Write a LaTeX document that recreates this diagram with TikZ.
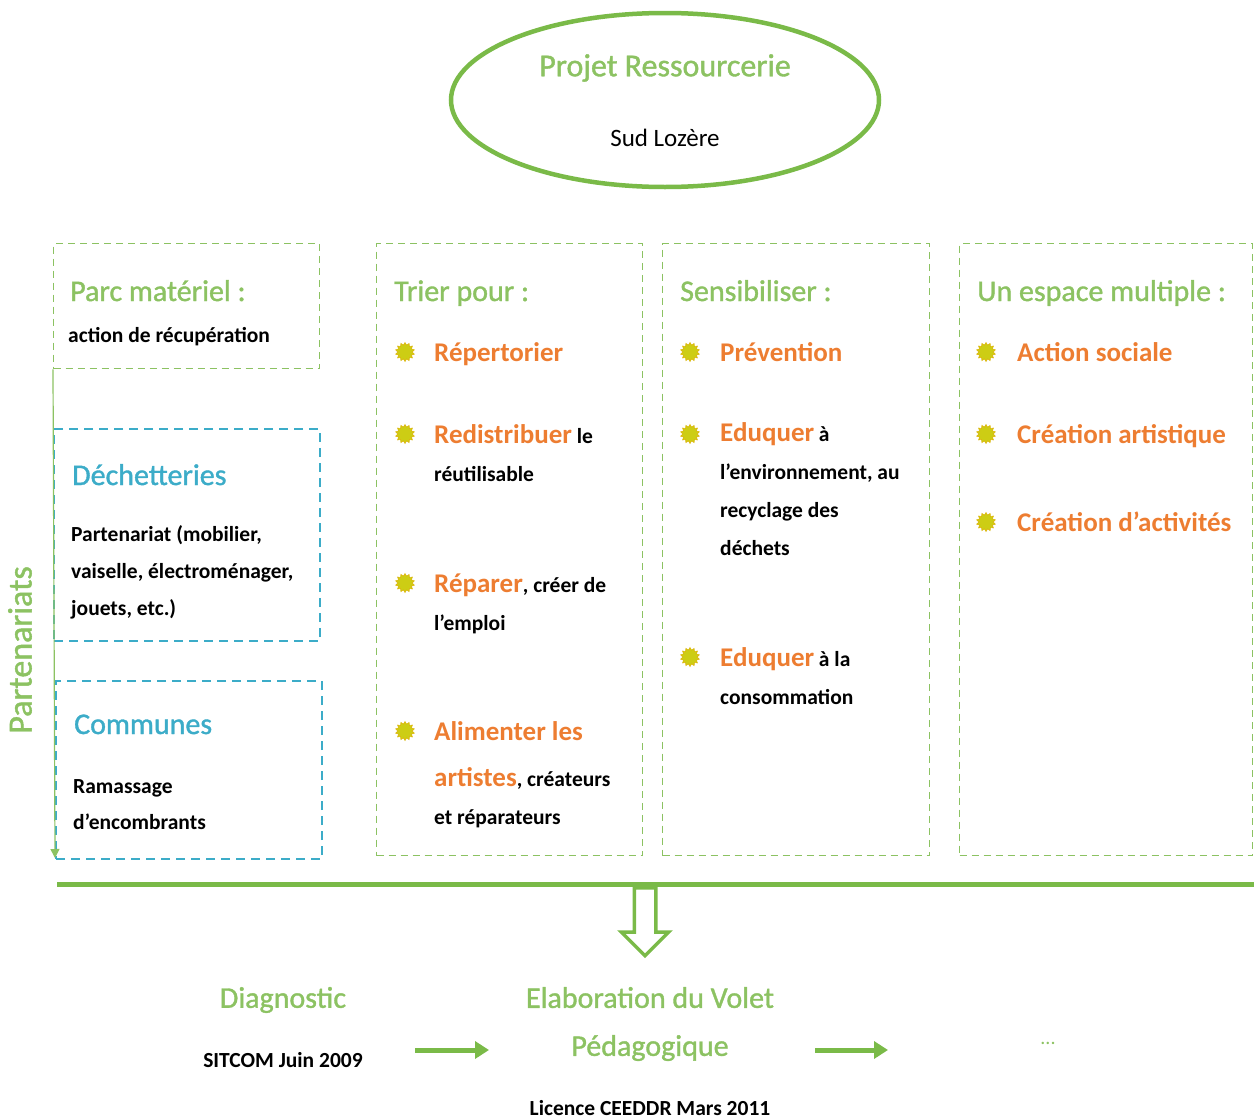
\documentclass[tikz,border=0pt]{standalone}
\usepackage{fontspec}
\setmainfont{Carlito}
\newfontfamily\vertfont[FakeBold=1.2]{Carlito}
\usetikzlibrary{arrows.meta,positioning,shapes.geometric,shapes.arrows}

\definecolor{vert}{RGB}{122,186,72}
\definecolor{vertclair}{RGB}{140,194,98}
\definecolor{orangeitem}{RGB}{237,125,49}
\definecolor{bleu}{RGB}{60,172,200}
\definecolor{puce}{RGB}{205,205,20}

\newcommand{\ftitre}{\vertfont\fontsize{30}{34}\selectfont}
\newcommand{\fitem}{\fontsize{27}{38}\selectfont\bfseries\color{orangeitem}}
\newcommand{\ftexte}{\fontsize{21.5}{38}\selectfont\bfseries\color{black}}

\tikzset{
  cadre/.style 2 args={draw=vertclair, dash pattern=on 7pt off 5pt, line width=1.3pt,
    anchor=north west, minimum width=#1, minimum height=#2, inner sep=0pt},
  cadrebleu/.style 2 args={draw=bleu, dash pattern=on 9pt off 6pt, line width=2pt,
    anchor=north west, minimum width=#1, minimum height=#2, inner sep=0pt},
  titre/.style={font=\ftitre, text=vertclair, anchor=base west, inner sep=0pt},
  titrebleu/.style={font=\ftitre, text=bleu, anchor=base west, inner sep=0pt},
  item/.style={font=\ftexte, align=left, anchor=base west, inner sep=0pt},
  texte/.style={font=\ftexte, align=left, anchor=base west, inner sep=0pt},
  puceitem/.style={star, star points=14, star point ratio=1.35, fill=puce,
    draw=puce!70!orange, line width=0.6pt, minimum size=19pt, inner sep=0pt},
  fleche/.style={draw=vert, line width=5pt, -{Triangle[length=14pt,width=17pt]}},
}

\begin{document}
\begin{tikzpicture}[x=1pt,y=-1pt]
\useasboundingbox (0,0) rectangle (1254,1119);

% projet
\node[ellipse, draw=vert, line width=4.5pt, minimum width=428pt, minimum height=174pt] (projet) at (665,100) {};
\node[font=\vertfont\fontsize{32}{34}\selectfont, text=vertclair] (ressourcerie) at (665,68) {Projet Ressourcerie};
\node[font=\fontsize{25}{30}\selectfont] (lozere) at (665,138) {Sud Lozère};

% partenaires (base = derniere ligne)
\node[cadre={266pt}{125pt}] (parc) at (53,243) {};
\node[titre] (parctitre) at (70,301) {Parc matériel :};
\node[texte] (parctexte) at (68,342) {action de récupération};

\node[cadrebleu={266pt}{212pt}] (dech) at (53,428) {};
\node[titrebleu] (dechtitre) at (72,485) {Déchetteries};
\node[texte, font=\fontsize{21.5}{37}\selectfont\bfseries] (dechtexte) at (71,615)
  {Partenariat (mobilier,\\ vaiselle, électroménager,\\ jouets, etc.)};

\node[cadrebleu={266pt}{178pt}] (communes) at (55,680) {};
\node[titrebleu] (comtitre) at (74,734) {Communes};
\node[texte, font=\fontsize{21.5}{36}\selectfont\bfseries] (comtexte) at (73,829)
  {Ramassage\\ d'encombrants};

\node[font=\vertfont\fontsize{34}{36}\selectfont, text=vertclair, rotate=90] (partenariats) at (20,650) {Partenariats};
\coordinate (finpart) at (55,858);
\draw[vertclair, line width=1.2pt, -{Triangle[length=9pt,width=9pt]}] (parc.south west) -- (finpart);

% trier
\node[cadre={266pt}{612pt}] (trier) at (376,243) {};
\node[titre] (triertitre) at (394,301) {Trier pour :};
\node[item] (repertorier) at (434,361) {\fitem Répertorier};
\node[item] (redistribuer) at (434,481) {{\fitem Redistribuer} le\\ réutilisable};
\node[item] (reparer) at (434,630) {{\fitem Réparer}, créer de\\ l'emploi};
\node[item] (alimenter) at (434,824) {{\fitem Alimenter les}\\[8pt] {\fitem artistes}, créateurs\\ et réparateurs};
\foreach \n/\y in {repertorier/352, redistribuer/434, reparer/583, alimenter/731}
  \node[puceitem] (puce-\n) at (405,\y) {};

% sensibiliser
\node[cadre={267pt}{612pt}] (sensib) at (662,243) {};
\node[titre] (sensibtitre) at (680,301) {Sensibiliser :};
\node[item] (prevention) at (720,361) {\fitem Prévention};
\node[item] (eduquer) at (720,555) {{\fitem Eduquer} à\\ l'environnement, au\\ recyclage des\\ déchets};
\node[item] (consommation) at (720,704) {{\fitem Eduquer} à la\\ consommation};
\foreach \n/\y in {prevention/352, eduquer/434, consommation/657}
  \node[puceitem] (puce-\n) at (690,\y) {};

% espace multiple
\node[cadre={293pt}{612pt}] (espace) at (959,243) {};
\node[titre] (espacetitre) at (977,301) {Un espace multiple :};
\node[item] (sociale) at (1017,361) {\fitem Action sociale};
\node[item] (artistique) at (1017,443) {\fitem Création artistique};
\node[item] (activites) at (1017,531) {\fitem Création d'activités};
\foreach \n/\y in {sociale/352, artistique/434, activites/522}
  \node[puceitem] (puce-\n) at (986,\y) {};

% ligne et fleche
\coordinate (ligneG) at (57,884);
\coordinate (ligneD) at (1256,884);
\draw[vert, line width=5pt] (ligneG) -- (ligneD);
\node[single arrow, draw=vert, fill=white, line width=3.5pt, shape border rotate=270,
  minimum height=68pt, inner xsep=9pt, inner ysep=0pt, single arrow head extend=13pt,
  anchor=tail] (descente) at (645,886) {};

% etapes
\node[font=\vertfont\fontsize{30}{34}\selectfont, text=vertclair] (diagnostic) at (283,1000) {Diagnostic};
\node[font=\fontsize{21.5}{24}\selectfont\bfseries] (sitcom) at (283,1060) {SITCOM Juin 2009};
\node[font=\vertfont\fontsize{30}{48}\selectfont, text=vertclair, align=center] (elaboration) at (650,1024)
  {Elaboration du Volet\\ Pédagogique};
\node[font=\fontsize{21.5}{24}\selectfont\bfseries] (licence) at (650,1108) {Licence CEEDDR Mars 2011};
\node[font=\fontsize{20}{22}\selectfont, text=vertclair] (suite) at (1048,1043) {...};
\coordinate (f1a) at (415,1050);
\coordinate (f1b) at (489,1050);
\coordinate (f2a) at (815,1050);
\coordinate (f2b) at (888,1050);
\draw[fleche] (f1a) -- (f1b);
\draw[fleche] (f2a) -- (f2b);
\end{tikzpicture}
\end{document}
